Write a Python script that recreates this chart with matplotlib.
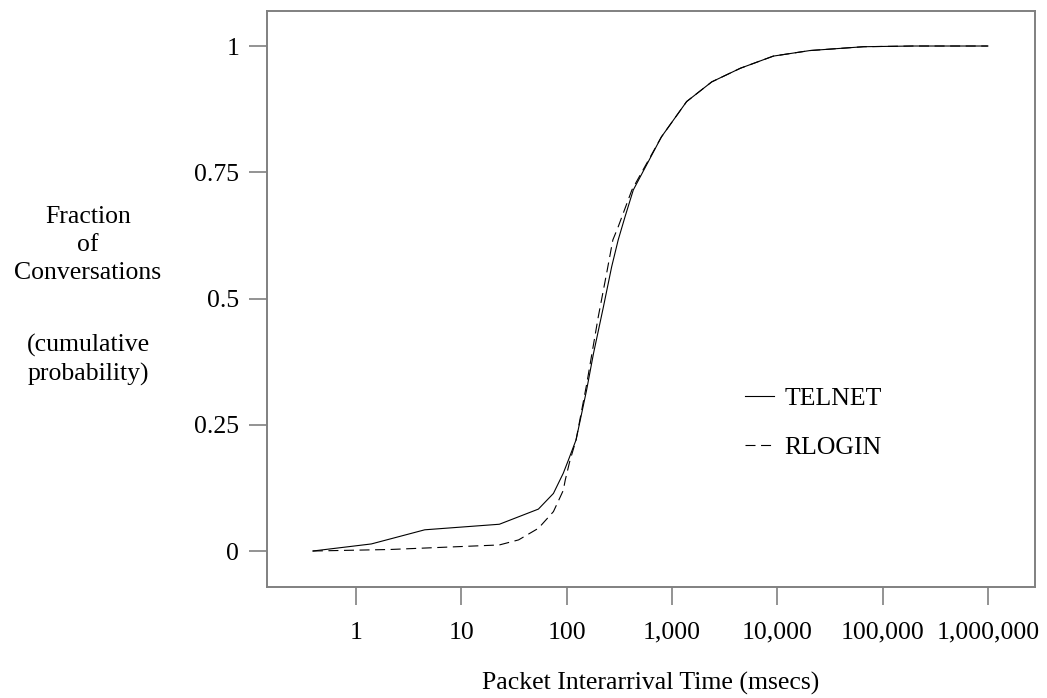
import matplotlib
matplotlib.use('Agg')
import matplotlib.pyplot as plt
from matplotlib.ticker import FixedLocator, FixedFormatter, NullLocator

# packet interarrival time (msecs) and cumulative fraction
telnet_x = [0.39, 1.4, 4.5, 23, 54, 75, 93, 104, 123, 155, 180, 224, 268,
            309, 359, 430, 795, 1380, 2390, 4470, 9180, 20400, 66000,
            195000, 1000000]
telnet_y = [0.0, 0.014, 0.042, 0.053, 0.083, 0.114, 0.154, 0.180, 0.22,
            0.319, 0.391, 0.484, 0.563, 0.616, 0.662, 0.715, 0.82, 0.89,
            0.929, 0.956, 0.980, 0.991, 0.9986, 1.0, 1.0]

rlogin_x = [0.39, 2.1, 23, 35, 54, 75, 93, 97, 107, 123, 155, 200, 240,
            275, 309, 417, 795, 1380, 2390, 4470, 9180, 20400, 66000,
            195000, 1000000]
rlogin_y = [0.0, 0.003, 0.012, 0.022, 0.045, 0.078, 0.12, 0.14, 0.177,
            0.22, 0.33, 0.464, 0.55, 0.616, 0.642, 0.715, 0.82, 0.89,
            0.929, 0.956, 0.980, 0.991, 0.9986, 1.0, 1.0]

x_ticks = [1, 10, 100, 1000, 10000, 100000, 1000000]
x_labels = ['1', '10', '100', '1,000', '10,000', '100,000', '1,000,000']
y_ticks = [0, 0.25, 0.5, 0.75, 1]
y_labels = ['0', '0.25', '0.5', '0.75', '1']

plt.rcParams['font.family'] = ['Liberation Serif', 'DejaVu Serif']
plt.rcParams['font.size'] = 18.5

fig = plt.figure(figsize=(10.47, 6.98), dpi=100)
ax = fig.add_axes([0.255, 0.159, 0.7335, 0.825])

ax.plot(telnet_x, telnet_y, color='black', lw=0.8, label='TELNET')
ax.plot(rlogin_x, rlogin_y, color='black', lw=0.8, dashes=(9, 5),
        label='RLOGIN')

ax.set_xscale('log')
ax.set_xlim(0.143, 2.8e6)
ax.set_ylim(-0.0713, 1.069)

ax.xaxis.set_major_locator(FixedLocator(x_ticks))
ax.xaxis.set_major_formatter(FixedFormatter(x_labels))
ax.xaxis.set_minor_locator(NullLocator())
ax.yaxis.set_major_locator(FixedLocator(y_ticks))
ax.yaxis.set_major_formatter(FixedFormatter(y_labels))

for s in ax.spines.values():
    s.set_color('#808080')
    s.set_linewidth(1.4)
ax.tick_params(axis='x', direction='out', length=13, width=1.2,
               color='#808080', pad=12)
ax.tick_params(axis='y', direction='out', length=13, width=1.2,
               color='#808080', pad=7)

ax.set_xlabel('Packet Interarrival Time (msecs)', labelpad=20)

fig.text(88 / 1047, 1 - 245 / 698, 'Fraction\nof\nConversations',
         ha='center', va='center', linespacing=1.35)
fig.text(88 / 1047, 1 - 360 / 698, '(cumulative\nprobability)',
         ha='center', va='center', linespacing=1.35)

ax.legend(loc='center left', bbox_to_anchor=(0.622, 0.285), frameon=False,
          handlelength=1.15, handletextpad=0.4, labelspacing=1.03,
          borderpad=0, borderaxespad=0)

fig.savefig('out.png', dpi=100)
